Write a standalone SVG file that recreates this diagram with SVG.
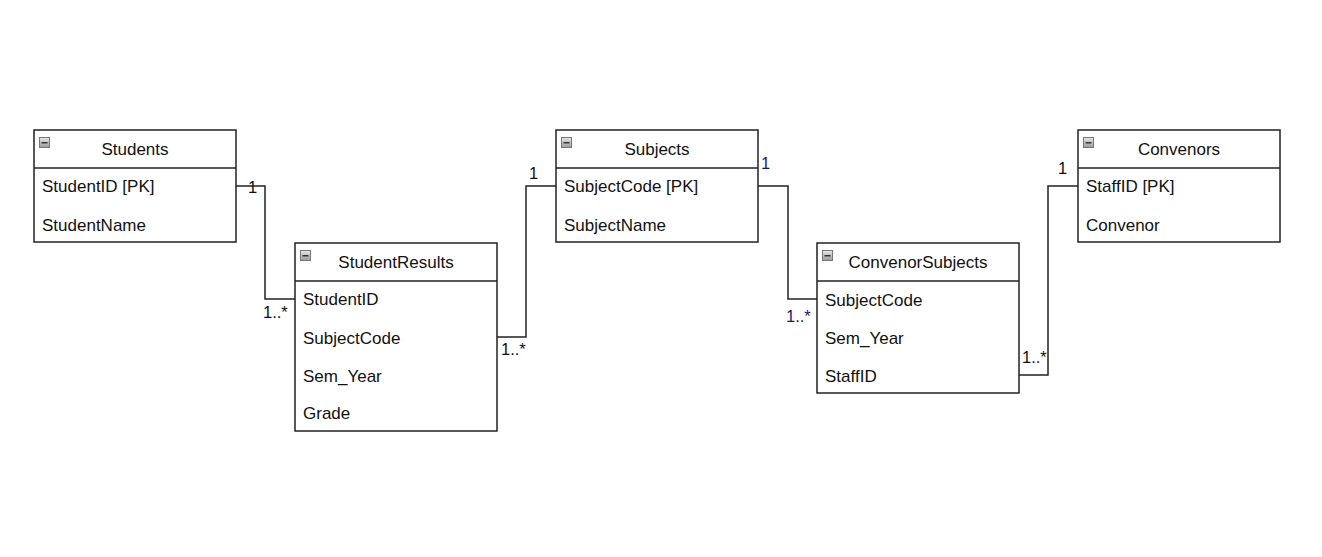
<svg xmlns="http://www.w3.org/2000/svg" width="1322" height="557" viewBox="0 0 1322 557">
<style>
.box{fill:#fff;stroke:#222;stroke-width:1.5}
.sep{stroke:#222;stroke-width:1.5}
.t{font-family:"Liberation Sans",Arial,sans-serif;font-size:17px;fill:#111}
.h{text-anchor:middle}
.c{fill:none;stroke:#222;stroke-width:1.5}
.l{font-family:"Liberation Sans",Arial,sans-serif;font-size:16.5px;fill:#111}
.lb{fill:#1a1a70}
</style>
<defs>
<linearGradient id="ig" x1="0" y1="0" x2="0" y2="1">
<stop offset="0" stop-color="#e8e8e8"/><stop offset="1" stop-color="#9a9a9a"/>
</linearGradient>
<g id="icon"><rect x="0.5" y="0.5" width="10" height="10" fill="url(#ig)" stroke="#777" stroke-width="1"/><rect x="2.5" y="5" width="6" height="1.5" fill="#333"/></g>
</defs>
<g id="connectors">
<polyline class="c" points="236,186 265,186 265,299 295,299"/>
<polyline class="c" points="497,337 526,337 526,186 556,186"/>
<polyline class="c" points="758,186 788,186 788,299 817,299"/>
<polyline class="c" points="1019,375 1048,375 1048,186 1078,186"/>
<text class="l" x="248" y="193">1</text>
<text class="l" x="263" y="318">1..*</text>
<text class="l" x="501" y="355">1..*</text>
<text class="l" x="529" y="179">1</text>
<text class="l lb" x="761" y="169">1</text>
<text class="l lb" x="786" y="322">1..*</text>
<text class="l" x="1022" y="363">1..*</text>
<text class="l" x="1058" y="174">1</text>
</g>
<g id="Students">
<rect class="box" x="34" y="130" width="202" height="112"/>
<line class="sep" x1="34" y1="168" x2="236" y2="168"/>
<use href="#icon" x="39" y="137"/>
<text class="t h" x="135" y="155">Students</text>
<text class="t" x="42" y="192">StudentID [PK]</text>
<text class="t" x="42" y="231">StudentName</text>
</g>
<g id="StudentResults">
<rect class="box" x="295" y="243" width="202" height="188"/>
<line class="sep" x1="295" y1="281" x2="497" y2="281"/>
<use href="#icon" x="300" y="250"/>
<text class="t h" x="396" y="268">StudentResults</text>
<text class="t" x="303" y="305">StudentID</text>
<text class="t" x="303" y="344">SubjectCode</text>
<text class="t" x="303" y="382">Sem_Year</text>
<text class="t" x="303" y="419">Grade</text>
</g>
<g id="Subjects">
<rect class="box" x="556" y="130" width="202" height="112"/>
<line class="sep" x1="556" y1="168" x2="758" y2="168"/>
<use href="#icon" x="561" y="137"/>
<text class="t h" x="657" y="155">Subjects</text>
<text class="t" x="564" y="192">SubjectCode [PK]</text>
<text class="t" x="564" y="231">SubjectName</text>
</g>
<g id="ConvenorSubjects">
<rect class="box" x="817" y="243" width="202" height="150"/>
<line class="sep" x1="817" y1="281" x2="1019" y2="281"/>
<use href="#icon" x="822" y="250"/>
<text class="t h" x="918" y="268">ConvenorSubjects</text>
<text class="t" x="825" y="306">SubjectCode</text>
<text class="t" x="825" y="344">Sem_Year</text>
<text class="t" x="825" y="382">StaffID</text>
</g>
<g id="Convenors">
<rect class="box" x="1078" y="130" width="202" height="112"/>
<line class="sep" x1="1078" y1="168" x2="1280" y2="168"/>
<use href="#icon" x="1083" y="137"/>
<text class="t h" x="1179" y="155">Convenors</text>
<text class="t" x="1086" y="192">StaffID [PK]</text>
<text class="t" x="1086" y="231">Convenor</text>
</g>
</svg>
